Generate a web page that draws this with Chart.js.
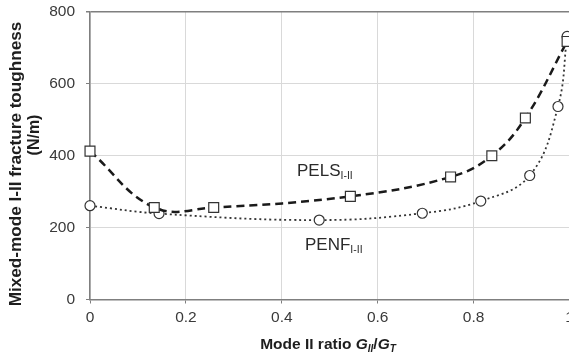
<!DOCTYPE html>
<html>
<head>
<meta charset="utf-8">
<script src="https://cdn.jsdelivr.net/npm/chart.js@4.4.1/dist/chart.umd.min.js"></script>
<style>
  html, body { margin: 0; padding: 0; background: #fff; overflow: hidden; }
  #wrap { width: 580px; height: 361px; position: relative; }
</style>
</head>
<body>
<div id="wrap"><canvas id="chart"></canvas></div>
<script>
// mode II ratio vs toughness (N/m)
const pelsX = [0, 0.134, 0.258, 0.543, 0.752, 0.838, 0.908, 0.995];
const pelsY = [413, 256, 256, 287, 341, 400, 505, 718];
const penfX = [0, 0.144, 0.478, 0.693, 0.815, 0.917, 0.976, 0.995];
const penfY = [261, 239, 221, 240, 274, 345, 537, 732];
const xTicks = [0, 0.2, 0.4, 0.6, 0.8, 1];
const yTicks = [0, 200, 400, 600, 800];

const toPts = (xs, ys) => xs.map((x, i) => ({ x, y: ys[i] }));

const AXIS = '#7f7f7f';
const GRID = '#d9d9d9';
const TXT = '#3a3a3a';
const FONT = '"Liberation Sans", Arial, sans-serif';

// text with subscript helper
function drawRich(ctx, parts, x, y, align) {
    let w = 0;
    parts.forEach(p => { ctx.font = p.font; w += ctx.measureText(p.t).width; });
    let cx = align === 'center' ? x - w / 2 : x;
    parts.forEach(p => {
        ctx.font = p.font;
        ctx.fillText(p.t, cx, y + (p.dy || 0));
        cx += ctx.measureText(p.t).width;
    });
}

const labels = {
    id: 'labels',
    afterDraw(chart) {
        const ctx = chart.ctx;
        ctx.save();
        ctx.fillStyle = '#2a2a2a';
        ctx.textBaseline = 'alphabetic';
        ctx.textAlign = 'left';
        // series labels
        drawRich(ctx, [
            { t: 'PELS', font: '17px ' + FONT },
            { t: 'I-II', font: '10.5px ' + FONT, dy: 3 }
        ], 297, 176, 'left');
        drawRich(ctx, [
            { t: 'PENF', font: '17px ' + FONT },
            { t: 'I-II', font: '10.5px ' + FONT, dy: 3 }
        ], 305, 250, 'left');
        // x title
        ctx.fillStyle = '#1e1e1e';
        drawRich(ctx, [
            { t: 'Mode II ratio ', font: 'bold 15.5px ' + FONT },
            { t: 'G', font: 'italic bold 15.5px ' + FONT },
            { t: 'II', font: 'italic bold 10px ' + FONT, dy: 3 },
            { t: '/', font: 'bold 15.5px ' + FONT },
            { t: 'G', font: 'italic bold 15.5px ' + FONT },
            { t: 'T', font: 'italic bold 10px ' + FONT, dy: 3 }
        ], 328, 349, 'center');
        // y title, two lines
        ctx.textAlign = 'center';
        ctx.font = 'bold 16px ' + FONT;
        ctx.save();
        ctx.translate(21, 164);
        ctx.rotate(-Math.PI / 2);
        ctx.scale(1.07, 1);
        ctx.fillText('Mixed-mode I-II fracture toughness', 0, 0);
        ctx.restore();
        ctx.save();
        ctx.translate(39, 135);
        ctx.rotate(-Math.PI / 2);
        ctx.fillText('(N/m)', 0, 0);
        ctx.restore();
        ctx.restore();
    }
};

new Chart(document.getElementById('chart'), {
    type: 'scatter',
    data: {
        datasets: [
            {
                label: 'PELS',
                data: toPts(pelsX, pelsY),
                showLine: true,
                clip: false,
                tension: 0.4,
                borderColor: '#1a1a1a',
                borderWidth: 2.5,
                borderDash: [8, 5],
                pointStyle: 'rect',
                pointRadius: 7,
                pointBorderWidth: 1.2,
                pointBorderColor: '#333',
                pointBackgroundColor: '#fff',
            },
            {
                label: 'PENF',
                data: toPts(penfX, penfY),
                showLine: true,
                clip: false,
                tension: 0.4,
                borderColor: '#333',
                borderWidth: 1.8,
                borderDash: [2, 3],
                pointStyle: 'circle',
                pointRadius: 5,
                pointBorderWidth: 1.2,
                pointBorderColor: '#333',
                pointBackgroundColor: '#fff',
            },
        ],
    },
    options: {
        responsive: true,
        maintainAspectRatio: false,
        animation: false,
        layout: { padding: { top: 12, right: 10.5, left: 0, bottom: 0 } },
        plugins: { legend: { display: false }, tooltip: { enabled: false } },
        scales: {
            x: {
                type: 'linear',
                min: 0, max: 1,
                afterBuildTicks: s => { s.ticks = xTicks.map(v => ({ value: v })); },
                afterFit: s => { s.height = 61.5; s.paddingLeft = 0; s.paddingRight = 0; },
                grid: { color: GRID, tickColor: AXIS, tickLength: 4, lineWidth: 1 },
                border: { color: AXIS, width: 1.5 },
                ticks: { color: TXT, font: { family: FONT, size: 15.5 }, padding: 5, maxRotation: 0,
                         callback: v => String(v) },
            },
            y: {
                min: 0, max: 800,
                afterBuildTicks: s => { s.ticks = yTicks.map(v => ({ value: v })); },
                afterFit: s => { s.width = 90; s.paddingTop = 0; s.paddingBottom = 0; },
                grid: {
                    color: c => c.tick && c.tick.value === 800 ? AXIS : GRID,
                    lineWidth: c => c.tick && c.tick.value === 800 ? 1.5 : 1,
                    tickColor: AXIS, tickLength: 4,
                },
                border: { color: AXIS, width: 1.5 },
                ticks: { color: TXT, font: { family: FONT, size: 15.5 }, padding: 11 },
            },
        },
    },
    plugins: [labels],
});
</script>
</body>
</html>
